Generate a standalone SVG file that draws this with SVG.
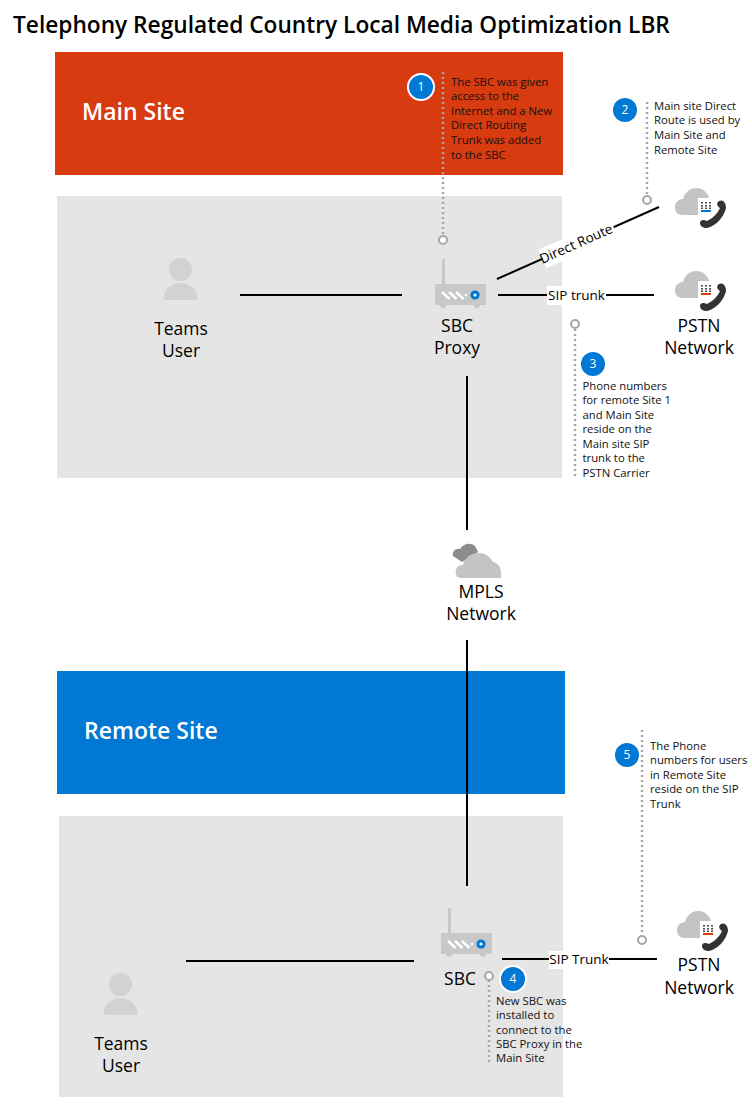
<svg xmlns="http://www.w3.org/2000/svg" width="752" height="1106" viewBox="0 0 752 1106">
<style>
text{font-family:"Open Sans","Noto Sans","Liberation Sans",sans-serif;fill:#000}
.title{font-size:22.7px;font-weight:600}
.site{font-size:23px;font-weight:600;fill:#fff}
.lab{font-size:17.5px;text-anchor:middle}
.note{font-size:11.3px;fill:#111}
.conn{font-size:13.5px;text-anchor:middle}
.num{font-size:12px;fill:#fff;text-anchor:middle}
.line{stroke:#000;stroke-width:2;fill:none}
.dot{stroke:#a6a6a6;stroke-width:2.4;stroke-dasharray:2 3;fill:none}
.ring{fill:#fff;stroke:#a6a6a6;stroke-width:2}
.panel{fill:#e5e5e5}
</style>
<defs>
<g id="user"><circle cx="0" cy="-30.500" r="11.500" fill="#d2d2d2"/><path d="M-17 0C-17-11-9-17 0-17S17-11 17 0Z" fill="#d2d2d2"/></g>
<g id="router"><rect x="7" y="0" width="3" height="25" fill="#c8c8c8"/><rect x="0" y="25" width="51" height="21" fill="#c8c8c8"/><circle cx="8" cy="46" r="3" fill="#c8c8c8"/><circle cx="42" cy="46" r="3" fill="#c8c8c8"/><path d="M7 33l7.500 7M14 33l7.500 7M21 33l7.500 7" stroke="#fff" stroke-width="2.400"/><circle cx="31" cy="36" r="1.300" fill="#fff"/><circle cx="40" cy="36" r="4.600" fill="#0078d4"/><circle cx="40" cy="36" r="1.600" fill="#fff"/></g>
<g id="cloud"><path d="M7 28C2 28 0 24 0 20C0 15 4 12 8 12C10 5 15 1 21 1C28 1 33 6 34 11L34 28Z" fill="#c4c4c4"/><rect x="23" y="11" width="15" height="17" fill="#fff"/><g fill="#505050"><rect x="26" y="15" width="2" height="1.600"/><rect x="30" y="15" width="2" height="1.600"/><rect x="34" y="15" width="2" height="1.600"/><rect x="26" y="18" width="2" height="1.600"/><rect x="30" y="18" width="2" height="1.600"/><rect x="34" y="18" width="2" height="1.600"/><rect x="26" y="20.500" width="2" height="1.500"/><rect x="30" y="20.500" width="2" height="1.500"/><rect x="34" y="20.500" width="2" height="1.500"/></g><rect class="bar" x="26" y="23" width="10" height="2"/><path d="M25 36C25 33 28 32 32 34C38 31 43 26 45 21C42 19 41 16 44 14C48 12 51 16 51 21C49 30 41 39 32 41C28 41 25 39 25 36Z" fill="#333"/></g>
</defs>
<text class="title" x="13" y="33">Telephony Regulated Country Local Media Optimization LBR</text>
<g id="main-site"><rect x="55" y="52" width="508" height="123" fill="#d83b0f"/><text class="site" x="82" y="120">Main Site</text></g>
<rect id="main-panel" class="panel" x="57" y="196" width="505" height="282"/>
<g id="remote-site"><rect x="57" y="671" width="508" height="123" fill="#0078d4"/><text class="site" x="84" y="739">Remote Site</text></g>
<rect id="remote-panel" class="panel" x="59" y="816" width="504" height="281"/>
<g id="connectors">
<path class="line" d="M240 295H402M498 295H654M467 376V530M467 640V886M186 961H414M502 959H657M497 279L659 207"/>
<g id="conn-direct"><rect x="-39" y="-10" width="78" height="20" fill="#fff" transform="translate(578 243) rotate(-24)"/><text class="conn" transform="translate(578 248) rotate(-24)">Direct Route</text></g>
<g id="conn-sip1"><rect x="547" y="286" width="59" height="19" fill="#fff"/><text class="conn" x="576.500" y="300">SIP trunk</text></g>
<g id="conn-sip2"><rect x="549" y="951" width="60" height="18" fill="#fff"/><text class="conn" x="579" y="964">SIP Trunk</text></g>
<path class="dot" d="M443 72V236M647 102V196M575 329V478M642 730V935M489 980V1064"/>
<circle class="ring" cx="443" cy="240" r="4"/><circle class="ring" cx="647" cy="200" r="4"/><circle class="ring" cx="575" cy="324" r="4"/><circle class="ring" cx="642" cy="940" r="4"/><circle class="ring" cx="489" cy="976" r="4"/>
</g>
<g id="teams-user-1"><use href="#user" x="180.500" y="300"/><text class="lab" x="181" y="335">Teams</text><text class="lab" x="181" y="357">User</text></g>
<g id="sbc-proxy"><use href="#router" x="435" y="259"/><text class="lab" x="457" y="332">SBC</text><text class="lab" x="457" y="354">Proxy</text></g>
<g id="pstn-direct" fill="#0078d4"><use href="#cloud" x="675" y="187"/></g>
<g id="pstn-1" fill="#d83b0f"><use href="#cloud" x="675" y="270"/><text class="lab" x="699" y="354" dy="-22">PSTN</text><text class="lab" x="699" y="354">Network</text></g>
<g id="mpls"><path d="M453 556C452 551 456 548 460 549C463 544 470 542 475 546L478 552L462 562Z" fill="#8c8c8c"/><path d="M461 578C456 578 455 574 456 570C457 566 460 565 463 565C465 557 471 553 479 553C486 553 490 557 493 562C499 563 502 569 501 578Z" fill="#c4c4c4"/><text class="lab" x="481" y="598">MPLS</text><text class="lab" x="481" y="620">Network</text></g>
<g id="teams-user-2"><use href="#user" x="120.500" y="1015"/><text class="lab" x="121" y="1050">Teams</text><text class="lab" x="121" y="1072">User</text></g>
<g id="sbc"><use href="#router" x="441" y="908"/><text class="lab" x="460" y="985">SBC</text></g>
<g id="pstn-2" fill="#d83b0f"><use href="#cloud" x="677" y="910"/><text class="lab" x="699" y="971">PSTN</text><text class="lab" x="699" y="994">Network</text></g>
<g id="note-1"><circle cx="421" cy="87" r="13" fill="#0078d4" stroke="#fff" stroke-width="2"/><text class="num" x="421" y="91">1</text><text class="note" x="451" y="86">The SBC was given</text><text class="note" x="451" y="100">access to the</text><text class="note" x="451" y="115">Internet and a New</text><text class="note" x="451" y="129">Direct Routing</text><text class="note" x="451" y="144">Trunk was added</text><text class="note" x="451" y="159">to the SBC</text></g>
<g id="note-2"><circle cx="625" cy="110" r="12" fill="#0078d4"/><text class="num" x="625" y="114">2</text><text class="note" x="654" y="110">Main site Direct</text><text class="note" x="654" y="124">Route is used by</text><text class="note" x="654" y="139">Main Site and</text><text class="note" x="654" y="154">Remote Site</text></g>
<g id="note-3"><circle cx="593" cy="364" r="12" fill="#0078d4"/><text class="num" x="593" y="368">3</text><text class="note" x="582.500" y="390">Phone numbers</text><text class="note" x="582.500" y="404">for remote Site 1</text><text class="note" x="582.500" y="419">and Main Site</text><text class="note" x="582.500" y="433">reside on the</text><text class="note" x="582.500" y="448">Main site SIP</text><text class="note" x="582.500" y="462">trunk to the</text><text class="note" x="582.500" y="477">PSTN Carrier</text></g>
<g id="note-4"><circle cx="513" cy="979" r="13" fill="#0078d4" stroke="#fff" stroke-width="2"/><text class="num" x="513" y="983">4</text><text class="note" x="496" y="1005">New SBC was</text><text class="note" x="496" y="1019">installed to</text><text class="note" x="496" y="1034">connect to the</text><text class="note" x="496" y="1048">SBC Proxy in the</text><text class="note" x="496" y="1062">Main Site</text></g>
<g id="note-5"><circle cx="627" cy="755" r="12" fill="#0078d4"/><text class="num" x="627" y="759">5</text><text class="note" x="650" y="750">The Phone</text><text class="note" x="650" y="764">numbers for users</text><text class="note" x="650" y="779">in Remote Site</text><text class="note" x="650" y="793">reside on the SIP</text><text class="note" x="650" y="808">Trunk</text></g>
</svg>
